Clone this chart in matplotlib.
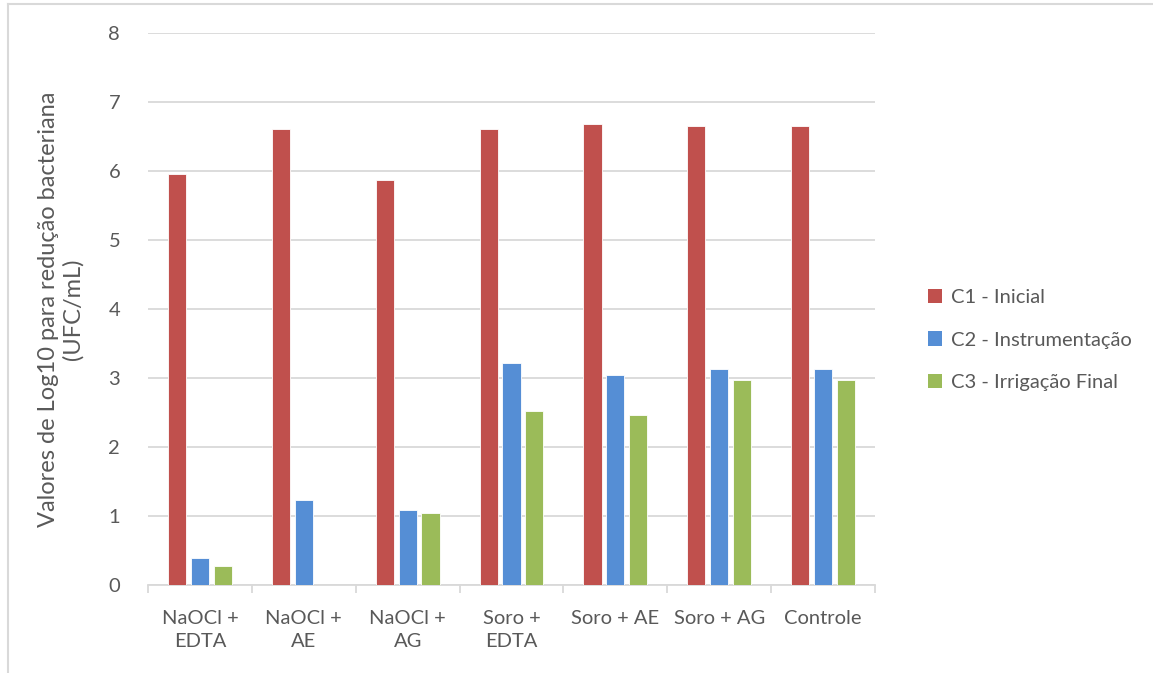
import matplotlib
matplotlib.use("Agg")
import matplotlib.pyplot as plt
from matplotlib.lines import Line2D
from matplotlib.patches import Patch
import numpy as np

categories = ["NaOCl +\nEDTA", "NaOCl +\nAE", "NaOCl +\nAG", "Soro +\nEDTA",
              "Soro + AE", "Soro + AG", "Controle"]
series_names = ["C1 - Inicial", "C2 - Instrumentação", "C3 - Irrigação Final"]
c1_inicial = [5.95, 6.61, 5.87, 6.61, 6.68, 6.65, 6.65]
c2_instrumentacao = [0.39, 1.23, 1.09, 3.22, 3.04, 3.13, 3.13]
c3_irrigacao_final = [0.28, 0.0, 1.05, 2.52, 2.47, 2.97, 2.97]
y_ticks = [0, 1, 2, 3, 4, 5, 6, 7, 8]

colors = ["#C0504D", "#558ED5", "#9BBB59"]
text_color = "#595959"
grid_color = "#D9D9D9"

plt.rcParams["font.family"] = ["Lato", "DejaVu Sans"]

W, H = 1153, 673
fig = plt.figure(figsize=(W / 100, H / 100), dpi=100)
ax = fig.add_axes([148 / W, 1 - 585 / H, (875 - 148) / W, (585 - 33) / H])

x = np.arange(len(categories))
step = 0.22
width = 0.175
for i, (vals, col, name) in enumerate(zip([c1_inicial, c2_instrumentacao, c3_irrigacao_final],
                                           colors, series_names)):
    ax.bar(x + (i - 1) * step, vals, width=width, color=col, label=name,
           edgecolor="white", linewidth=0.6, zorder=3)

ax.set_xlim(-0.5, len(categories) - 0.5)
ax.set_ylim(0, 8)
ax.set_yticks(y_ticks)
ax.yaxis.grid(True, color=grid_color, linewidth=1.3, zorder=0)
ax.tick_params(axis="y", length=0, pad=20, labelsize=14.5, labelcolor=text_color)

ax.set_xticks(x)
ax.set_xticklabels(categories, fontsize=14.5, color=text_color, linespacing=1.45)
ax.tick_params(axis="x", which="major", length=0, pad=18)
ax.set_xticks(np.arange(-0.5, len(categories), 1.0), minor=True)
ax.tick_params(axis="x", which="minor", length=6, width=1.3, color=grid_color, direction="out")

for side in ["top", "right", "left"]:
    ax.spines[side].set_visible(False)
ax.spines["bottom"].set_color(grid_color)
ax.spines["bottom"].set_linewidth(1.3)

ax.set_ylabel("Valores de Log10 para redução bacteriana\n(UFC/mL)", fontsize=17,
              color=text_color, linespacing=1.2)
ax.yaxis.set_label_coords(-0.088, 0.5)

handles = [Patch(facecolor=c, edgecolor="none") for c in colors]
leg = fig.legend(handles, series_names, loc="center left",
                 bbox_to_anchor=(910 / W, 1 - 340 / H), frameon=False,
                 fontsize=14.5, labelcolor=text_color, handlelength=0.7,
                 handleheight=0.7, handletextpad=0.45, labelspacing=1.25)

# chart frame edges
fig.add_artist(Line2D([8 / W, 1.0], [1 - 4 / H, 1 - 4 / H], color=grid_color,
                      linewidth=1.5, transform=fig.transFigure))
fig.add_artist(Line2D([8 / W, 8 / W], [0, 1 - 4 / H], color=grid_color,
                      linewidth=1.5, transform=fig.transFigure))

fig.savefig("out.png", dpi=100, facecolor="white")
